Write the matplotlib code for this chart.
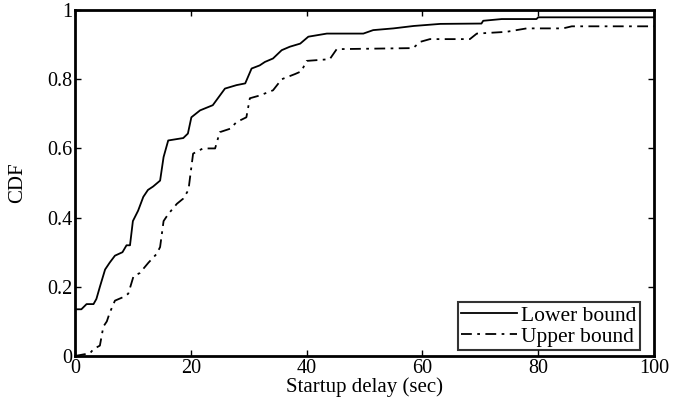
import matplotlib
matplotlib.use("Agg")
import matplotlib.pyplot as plt

# ---- data (startup delay in sec, CDF) ----
lower_x = [0, 1.1, 2.0, 3.2, 3.7, 4.3, 5.2, 6.0, 6.9, 8.2, 8.9, 9.5, 10.0, 10.9,
           11.8, 12.6, 13.5, 14.7, 15.3, 16.1, 18.7, 19.5, 20.1, 21.6, 23.8, 25.9,
           27.9, 29.4, 30.5, 31.9, 32.8, 34.2, 35.7, 37.1, 38.9, 40.3, 43.5, 49.8,
           51.5, 55.0, 58.5, 63.1, 70.2, 70.5, 73.7, 79.7, 80.0, 100]
lower_y = [0.135, 0.135, 0.15, 0.15, 0.165, 0.20, 0.25, 0.27, 0.29, 0.30, 0.32, 0.32,
           0.39, 0.42, 0.46, 0.48, 0.49, 0.507, 0.575, 0.623, 0.63, 0.643, 0.69,
           0.71, 0.725, 0.773, 0.783, 0.788, 0.831, 0.84, 0.85, 0.86, 0.884, 0.894,
           0.903, 0.923, 0.932, 0.932, 0.942, 0.947, 0.954, 0.96, 0.961, 0.969,
           0.974, 0.974, 0.979, 0.979]

upper_x = [0, 2.6, 3.2, 4.3, 4.9, 5.5, 6.0, 6.9, 8.3, 9.2, 10.1, 11.2, 12.7, 14.1,
           14.7, 15.3, 16.1, 17.6, 18.7, 19.6, 19.9, 20.4, 22.1, 24.2, 25.0, 26.8,
           27.9, 29.6, 30.2, 31.9, 34.2, 35.7, 38.0, 39.1, 40.0, 44.0, 45.2, 58.4,
           59.6, 61.3, 68.2, 69.4, 74.5, 78.0, 84.3, 85.8, 100]
upper_y = [0.0, 0.008, 0.02, 0.03, 0.085, 0.10, 0.125, 0.16, 0.17, 0.18, 0.23, 0.24,
           0.27, 0.295, 0.315, 0.39, 0.41, 0.44, 0.455, 0.48, 0.52, 0.585, 0.60,
           0.60, 0.647, 0.657, 0.676, 0.69, 0.745, 0.753, 0.768, 0.80, 0.815, 0.823,
           0.853, 0.858, 0.887, 0.89, 0.908, 0.916, 0.916, 0.932, 0.937, 0.947,
           0.947, 0.953, 0.953]

x_ticks = [0, 20, 40, 60, 80, 100]
y_ticks = [0, 0.2, 0.4, 0.6, 0.8, 1]
y_tick_labels = ["0", "0.2", "0.4", "0.6", "0.8", "1"]

plt.rcParams['font.family'] = ['Liberation Serif', 'DejaVu Serif']

fig = plt.figure(figsize=(6.78, 3.99), dpi=100)
ax = fig.add_axes([0.1106, 0.1078, 0.854, 0.867])

ax.plot(lower_x, lower_y, color='black', linewidth=1.3, label='Lower bound')
ax.plot(upper_x, upper_y, color='black', linewidth=1.3,
        linestyle=(0, (6, 3, 1.5, 3)), label='Upper bound')

ax.set_xlim(0, 100)
ax.set_ylim(0, 1)
ax.set_xticks(x_ticks)
ax.set_yticks(y_ticks)
ax.set_yticklabels(y_tick_labels)
ax.tick_params(direction='in', length=4, width=1, top=True, right=True,
               labelsize=14.5, pad=2)
for sp in ax.spines.values():
    sp.set_linewidth(2)

ax.set_xlabel('Startup delay (sec)', fontsize=15, labelpad=0)
ax.set_ylabel('CDF', fontsize=15, labelpad=14)

leg = ax.legend(loc='lower right', bbox_to_anchor=(0.976, 0.017),
                borderaxespad=0, fontsize=15.5, frameon=True, fancybox=False,
                handlelength=2.6, handletextpad=0.2, borderpad=0.15,
                labelspacing=0.05)
leg.get_frame().set_edgecolor('black')
leg.get_frame().set_linewidth(1.5)

fig.savefig('out.png', dpi=100)
